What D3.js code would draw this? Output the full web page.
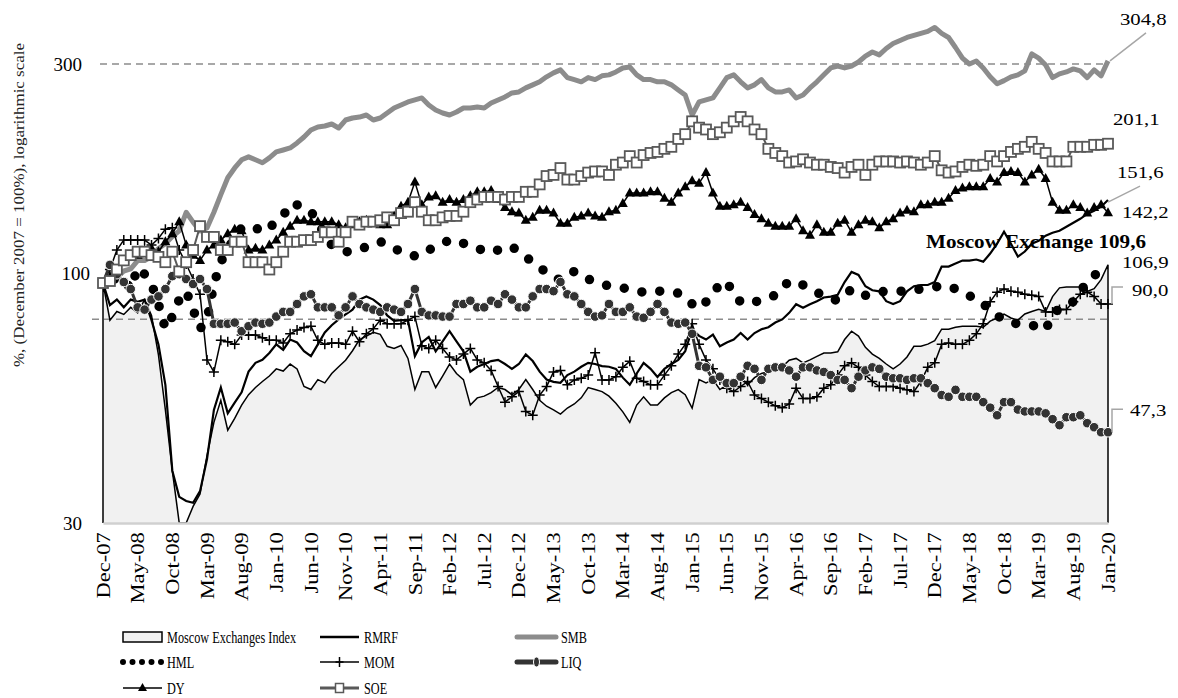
<!DOCTYPE html>
<html><head><meta charset="utf-8">
<script src="https://cdn.jsdelivr.net/npm/d3@7"></script>
<style>
body{margin:0;background:#fff;}
svg text{font-family:"Liberation Serif","Times New Roman",serif;fill:#000;}
</style></head><body>
<svg id="chart" width="1178" height="698"></svg>
<script>
// ---------- DATA ----------
const tickLabels = ["Dec-07","May-08","Oct-08","Mar-09","Aug-09","Jan-10","Jun-10","Nov-10","Apr-11","Sep-11","Feb-12","Jul-12","Dec-12","May-13","Oct-13","Mar-14","Aug-14","Jan-15","Jun-15","Nov-15","Apr-16","Sep-16","Feb-17","Jul-17","Dec-17","May-18","Oct-18","Mar-19","Aug-19","Jan-20"];
const yTicks = [30, 100, 300];
const refLevels = [300, 83.4];

const moex = [100,83,86.7,85.4,88.5,86.1,92,85,69.7,52.9,
39,30,30,32.6,34.7,42,49.7,55.5,47.8,50.7,
54.2,57.1,59.2,61,62.7,65,64.3,66.6,65,59.5,
58.6,61.6,60.6,63.5,65.7,67.9,71.2,75.3,76.6,78.1,
77.3,72.8,72,73.1,68.5,58.6,64.1,64.1,59.2,62.7,
66.6,63.5,61.6,54.2,56.2,56.7,57.7,59.2,58.6,57.1,
58.6,61.6,58.6,55.5,53.9,52.9,51.8,53.4,54.5,56.2,
59.2,58.6,58,56.7,54.7,52.4,49.7,54.2,56.5,54.2,
54.2,56.2,57.7,58.6,57.1,53.4,61.6,60.6,61.6,58.6,
60,60.6,62.2,60,62.2,63.5,64.1,65,65.7,67.9,
68.5,67,68,69.2,70.4,70.4,70.8,75.3,78.5,76.6,
72.4,70,68.5,66.6,65,66.6,69,72.8,72.8,73.6,
74.9,79.3,79.3,80.1,80.5,80.5,80.5,80.1,82.6,83.9,
85.6,83.9,83,85.6,86.7,87.6,86.7,93.4,97.6,98,
98,98,95.9,97.2,101.7,109.6];

const rmrf = [100,89.5,92,88.5,92,91,92,83,73.5,60,
39,34.2,33.5,33.2,35.2,41.3,52.9,59.2,52,54.9,
57.8,64.1,67,68,70.4,73.5,71.5,75.3,74.2,71,
69.3,73.5,78,80.9,83.3,85.4,87.5,92,93.5,92,
89.5,85,82.7,83,83,69.3,74.2,76.3,71,74.6,
78.5,74.6,71,64.1,65.7,66.6,67.6,68,66.6,65,
66.6,69.9,67.6,64.1,61.6,60.9,60.6,63,64.1,65.7,
67,66.6,65.9,65.7,65,62.2,60,63.5,67,65,
62.4,65,66.6,68,71,79.3,76.7,75.3,77.2,72.8,
74.2,75.3,77.8,75.3,77.8,79.3,80.1,82,83.3,86.1,
89.9,88.3,89.9,91.3,93,93.4,94.3,100.5,105.7,104.1,
98.4,96.4,95.9,91.3,90,91.3,95.9,98.4,99,99,
100.5,108.6,108.6,110.3,111.9,111.9,112.5,111.3,115.9,121.8,
129.3,121.8,114.2,117.1,121.8,123.6,126.8,128.7,130,132.6,
135.3,138,141.4,143.6,146.6,151.6];

const smb = [100,101,103,106.2,107.3,111.9,111.9,114.2,118.9,121.8,
126.2,129.9,142.6,135.7,129.9,131.8,142.6,155.8,169.5,178.1,
185.5,188.3,185.5,182.8,187.3,193,194.9,196.9,201.9,208,
215.4,218.7,219.8,222,217.6,226.5,228.8,229.9,232.3,226.5,
228.8,234.6,240.6,244.3,248,250.5,253,244.3,238.2,234.6,
232.3,235.8,240.6,240.6,241.8,240.6,246.7,250.5,254.3,259.5,
260.8,266.1,270.2,274.4,281.3,286.9,291.3,280.2,277.4,274.4,
280.2,277.4,282.7,284.1,288.3,294.1,295.5,284.1,277.4,277.4,
274.4,274.4,270.2,263.4,256.8,232.3,248,250.5,253,266.1,
280.2,284.1,274.4,266.1,270.2,277.4,266.1,260.8,260.8,263.4,
253,256.8,266.1,274.4,284.1,294.1,297,294.1,297,303,
312.2,318.6,314,324.3,332.5,337.6,342.7,346.2,349.7,353.2,
360.4,349.7,342.7,325.9,309,300,304.5,294.1,281.3,271.6,
276,281.3,284.1,289.8,315.6,309,298.5,280.2,285.5,288.3,
292.7,289.8,280.2,291.3,282.7,304.8];

const hml = [100,104.5,101,102,97,108,104.5,99.5,90,79.5,
84.5,92,96,87.5,79.5,83,99.5,111,119,125,
132,133,132,129,132,136,140,149,148,145,
143,136,127,121,118,117,117,118,120,122,
123,121.5,119,117,115.5,114.5,115,118,120,122,
124,124,122,120,119,117.5,116.5,118,120,120,
117,114,111,108,105.5,103,101.5,104,106,104.5,
102,100.5,99.5,98.5,98,97.5,97,96,95.5,95.5,
96,96,95.5,95,92.5,90,88,91,95.5,99,
101,94,91,90,91,91.5,93,94,97.5,101,
100,99,97.5,95.5,93.5,92.5,91.5,94,97,96,
94,94.5,95.5,96,96,96,96,96.5,97,97.5,
98,98.5,98.5,97,95.5,94,91,90,87.5,85,
83,82,81.5,81.5,81,80,79,85.5,88,90,
91,95.5,101,104,105.5,106.9];

const mom = [100,107,118,124,124,124,124,121,125,131,
132,118,110,102,94.5,68,64,75,74.5,73.5,
77,77,77,76,75,75,74,77.5,79,80,
80.5,75,73.5,74,74,73.5,78.5,74.5,77.5,79.5,
83,81.5,81.5,81.5,83,84.5,73,72,75,72,
69,68,70,72,68,67,64.5,59.5,55,56.5,
58,52.5,51.5,57,59.5,64,64.5,60,61.5,62,
63,70.5,61.5,61.5,62.5,65.5,67.5,62,61,60,
60,63,66,70,73.5,81.5,73.5,68,65,61.5,
59,58,59.5,61,57,56,55,54,53.5,54.5,
59,56,56,56.5,59,60,63,66,67,65.5,
63,61,59.5,59.5,59.5,59,58.5,58,61,65.5,
67,73.5,74,73.5,73.5,75,77.5,81.5,91,95.5,
97,96,95.5,94.5,94,93.5,86.5,86.5,87.5,87.5,
91,94.5,95.5,93.5,90,90];

const liq = [100,109.5,104.5,100.5,97,88.5,87.5,92,93.5,97,
103.5,104.5,102,99.5,102,97,81.5,81.5,81.5,82,
78.5,80.5,82,81.5,82,84.5,86.5,86.5,90,93.5,
94.5,88.5,88.5,88.5,85,88.5,93.5,90,88.5,87.5,
86.5,88.5,87.5,86.5,90,97,86.5,85,85,84.5,
84.5,90,90,91.5,88.5,88.5,91.5,90,94.5,92,
88.5,88.5,93.5,97,97,96,100.5,94.5,93.5,90,
86.5,84.5,85,90,86.5,86.5,88.5,84.5,84,86.5,
90,86.5,82,81.5,82,77.5,66,65.5,61.5,62.5,
60.5,60.5,62.5,66,65,61.5,65,65.5,65.5,64.5,
62.5,65.5,65.5,64.5,64,63,61.5,61.5,59,62.5,
64.5,65.5,65,62.5,62,62,61.5,62,62,60.5,
59,57,56.5,58.5,56.5,56.5,56.5,55,53.5,51.5,
55,55,53,52.5,52.5,52.5,52,50.5,49,51,
51,51.5,49.5,48.5,47.3,47.3];

const dy = [100,103,107,111,114,115,118,119,117,123,
128,136,121,115,112,118,121,124,128,131,
130,118,119,118,121,124,129,133,137,137,
136,136,136,136,134,132,134,136,137,136,
134,134,140,147,150,166,148,154,155,150,
152,150,152,155,158,158,159,152,146,143,
142,137,139,144,144,142,135,135,139,140,
142,140,139,143,144,149,157,157,157,158,
158,153,150,157,162,167,165,174,157,147,
147,148,150,146,141,138,135,133,133,133,
138,130,127,134,129,129,135,137,129,134,
137,136,132,136,138,142,144,143,148,148,
150,150,153,159,161,162,162,162,169,166,
174,175,174,166,172,177,169,150,144,144,
148,146,142,146,148,142.2];

const soe = [100,101,107,112,115,117,117,115,114,111,
117,106,111,118,133,126,126,118,118,123,
123,111,111,111,107,111,117,123,123,124,
124,126,129,129,123,129,136,134,136,136,
137,139,137,142,143,150,143,137,137,139,
140,140,143,150,152,154,154,154,152,154,
154,158,158,164,171,172,178,168,168,171,
174,175,175,172,181,183,189,183,190,192,
193,196,198,206,211,225,218,216,211,213,
218,225,230,225,216,211,196,192,189,183,
184,186,183,181,181,179,178,174,179,181,
172,181,184,184,184,183,184,183,181,183,
189,176,174,175,179,181,180,181,189,184,
189,193,196,198,203,196,192,184,184,184,
198,198,198,200,200,201.1];

// ---------- SETUP ----------
const months = d3.timeMonth.range(new Date(2007,11,1), new Date(2020,1,1)).map(d3.timeFormat("%b-%y"));
const svg = d3.select("#chart");
const L = 103, R = 1108, B = 523, T = 64;
const x = d3.scalePoint().domain(months).range([L, R]);
const y = d3.scaleLog().domain([30, 300]).range([B, T]);
const X = (d,i) => x(months[i]);
const line = d3.line().x(X).y(d => y(d));

// area (Moscow Exchanges Index)
svg.append("path").datum(moex)
  .attr("d", d3.area().x(X).y0(y(30)).y1(d => y(d)))
  .attr("fill", "#f1f1f1");

// reference dashed lines
svg.selectAll(".ref").data(refLevels).enter().append("line")
  .attr("x1", (d,i) => i === 0 ? 100 : 92).attr("x2", R)
  .attr("y1", d => y(d)).attr("y2", d => y(d))
  .attr("stroke", "#8c8c8c").attr("stroke-width", 1.5).attr("stroke-dasharray", "7,5");

// area outline
const outline = [[L, y(30)]].concat(moex.map((d,i) => [X(d,i), y(d)])).concat([[R, y(30)]]);
svg.append("path").attr("d", d3.line()(outline))
  .attr("fill", "none").attr("stroke", "#000").attr("stroke-width", 1.5);

// x axis
const xAxis = svg.append("g").attr("transform", `translate(0,${B})`)
  .call(d3.axisBottom(x).tickValues(months.filter((d,i) => i % 5 === 0)).tickSize(0)
        .tickFormat((d,i) => tickLabels[i]));
xAxis.select(".domain").attr("stroke", "#d0d0d0").attr("stroke-width", 2.5);
xAxis.selectAll("text")
  .attr("transform", "rotate(-90) scale(1.25,1)").attr("text-anchor", "end")
  .attr("x", -7.4).attr("y", 0).attr("dy", "0.34em")
  .style("font-size", "18px").style("font-family", "Liberation Serif");

// y axis
const yAxis = svg.append("g").attr("transform", `translate(${L},0)`)
  .call(d3.axisLeft(y).tickValues(yTicks).tickFormat(d3.format("d")).tickSize(0).tickPadding(21));
yAxis.select(".domain").remove();
yAxis.selectAll("text").style("font-size", "19px").style("font-family", "Liberation Serif");
yAxis.selectAll(".tick").filter(d => d === 100).select("text").attr("x", -13).attr("y", -10);

svg.append("text").attr("transform", "translate(24,205) rotate(-90)")
  .attr("text-anchor", "middle").style("font-size", "15px").style("fill", "#222")
  .attr("textLength", 324).attr("lengthAdjust", "spacingAndGlyphs")
  .text("%, (December 2007 = 100%), logarithmic scale");

// RMRF
svg.append("path").datum(rmrf).attr("d", line)
  .attr("fill", "none").attr("stroke", "#000").attr("stroke-width", 2.2);

// SMB
svg.append("path").datum(smb).attr("d", line)
  .attr("fill", "none").attr("stroke", "#8c8c8c").attr("stroke-width", 5).attr("stroke-linejoin", "round");

// HML dotted
svg.append("path").datum(hml).attr("d", line)
  .attr("fill", "none").attr("stroke", "#000").attr("stroke-width", 9.5)
  .attr("stroke-linecap", "round").attr("stroke-dasharray", "0,18");

// MOM
svg.append("path").datum(mom).attr("d", line)
  .attr("fill", "none").attr("stroke", "#000").attr("stroke-width", 1.5);
svg.append("g").selectAll("path").data(mom).enter().append("path")
  .attr("d", (d,i) => `M${X(d,i)-5},${y(d)}h10M${X(d,i)},${y(d)-5}v10`)
  .attr("stroke", "#000").attr("stroke-width", 1.5);

// LIQ
svg.append("path").datum(liq).attr("d", line)
  .attr("fill", "none").attr("stroke", "#333").attr("stroke-width", 3);
svg.append("g").selectAll("circle").data(liq).enter().append("circle")
  .attr("cx", X).attr("cy", d => y(d)).attr("r", 4.8)
  .attr("fill", "#333").attr("stroke", "#fff").attr("stroke-width", 1);

// DY
svg.append("path").datum(dy).attr("d", line)
  .attr("fill", "none").attr("stroke", "#000").attr("stroke-width", 1.5);
svg.append("g").selectAll("path").data(dy).enter().append("path")
  .attr("d", (d,i) => `M${X(d,i)},${y(d)-5.5}l5,9h-10z`).attr("fill", "#000");

// SOE
svg.append("path").datum(soe).attr("d", line)
  .attr("fill", "none").attr("stroke", "#595959").attr("stroke-width", 2);
svg.append("g").selectAll("rect").data(soe).enter().append("rect")
  .attr("x", (d,i) => X(d,i) - 5).attr("y", d => y(d) - 5).attr("width", 10).attr("height", 10)
  .attr("fill", "#fff").attr("stroke", "#595959").attr("stroke-width", 1.8);

// ---------- END LABELS ----------
const lbl = (txt, xx, yy) => svg.append("text")
  .attr("transform", `translate(${xx},${yy}) scale(1.2,1)`)
  .style("font-size", "17.3px").text(txt);
const n = months.length - 1, xe = x(months[n]);
const lead = pts => svg.append("path").attr("d", d3.line()(pts)).attr("fill", "none").attr("stroke", "#a6a6a6").attr("stroke-width", 1.5);
lead([[xe+2, y(smb[n])], [xe+38, y(smb[n])-28]]);
lbl("304,8", 1120, y(smb[n]) - 36);
lbl("201,1", 1113, y(soe[n]) - 19);
lead([[xe, y(rmrf[n])+2], [xe+32, y(rmrf[n])-14]]);
lbl("151,6", 1117, y(rmrf[n]) - 22);
lbl("142,2", 1122, y(dy[n]) + 5);
svg.append("text").attr("x", 1146).attr("y", 248).attr("text-anchor", "end")
  .style("font-size", "19px").style("font-weight", "bold")
  .attr("textLength", 220).attr("lengthAdjust", "spacingAndGlyphs")
  .text("Moscow Exchange 109,6");
lbl("106,9", 1122, y(hml[n]) - 2);
lead([[xe+4, y(mom[n])], [xe+4, y(mom[n])-17], [xe+15, y(mom[n])-17]]);
lbl("90,0", 1132, y(mom[n]) - 8);
lead([[xe+4, y(liq[n])], [xe+4, y(liq[n])-23], [xe+15, y(liq[n])-23]]);
lbl("47,3", 1130, y(liq[n]) - 16);

// ---------- LEGEND ----------
const lg = svg.append("g");
const cols = [123, 320, 517];
const ry = [637, 662, 688];
const items = [
  {k:"Moscow Exchanges Index", c:0, r:0, t:"area"},
  {k:"RMRF", c:1, r:0, t:"rmrf"},
  {k:"SMB", c:2, r:0, t:"smb"},
  {k:"HML", c:0, r:1, t:"hml"},
  {k:"MOM", c:1, r:1, t:"mom"},
  {k:"LIQ", c:2, r:1, t:"liq"},
  {k:"DY", c:0, r:2, t:"dy"},
  {k:"SOE", c:1, r:2, t:"soe"}
];
items.forEach(it => {
  const x0 = cols[it.c], yy = ry[it.r], x1 = x0 + 39, xm = x0 + 19.5;
  const g = lg.append("g");
  const seg = (c, w) => g.append("line").attr("x1", x0).attr("x2", x1).attr("y1", yy).attr("y2", yy).attr("stroke", c).attr("stroke-width", w);
  if (it.t === "area") g.append("rect").attr("x", x0).attr("y", yy - 5).attr("width", 39).attr("height", 10).attr("fill", "#f1f1f1").attr("stroke", "#000").attr("stroke-width", 1.5);
  if (it.t === "rmrf") seg("#000", 2.5);
  if (it.t === "smb") seg("#8c8c8c", 5).attr("stroke-linecap", "round");
  if (it.t === "hml") seg("#000", 6).attr("stroke-linecap", "round").attr("stroke-dasharray", "0,9.5");
  if (it.t === "mom") { seg("#000", 1.5);
    g.append("path").attr("d", `M${xm-4},${yy}h8M${xm},${yy-5}v10`).attr("stroke", "#000").attr("stroke-width", 1.5); }
  if (it.t === "liq") { seg("#333", 5).attr("stroke-linecap", "round");
    g.append("ellipse").attr("cx", xm).attr("cy", yy).attr("rx", 3).attr("ry", 5).attr("fill", "#333").attr("stroke", "#fff").attr("stroke-width", 1); }
  if (it.t === "dy") { seg("#000", 1.5);
    g.append("path").attr("d", `M${xm},${yy-5}l4.5,8h-9z`).attr("fill", "#000"); }
  if (it.t === "soe") { seg("#595959", 3);
    g.append("rect").attr("x", xm-4).attr("y", yy-4.5).attr("width", 8).attr("height", 9).attr("fill", "#fff").attr("stroke", "#595959").attr("stroke-width", 1.5); }
  g.append("text").attr("transform", `translate(${x1 + 5},${yy}) scale(0.7,1)`)
    .attr("dy", "0.35em").style("font-size", "17.5px").text(it.k);
});
</script>
</body></html>
